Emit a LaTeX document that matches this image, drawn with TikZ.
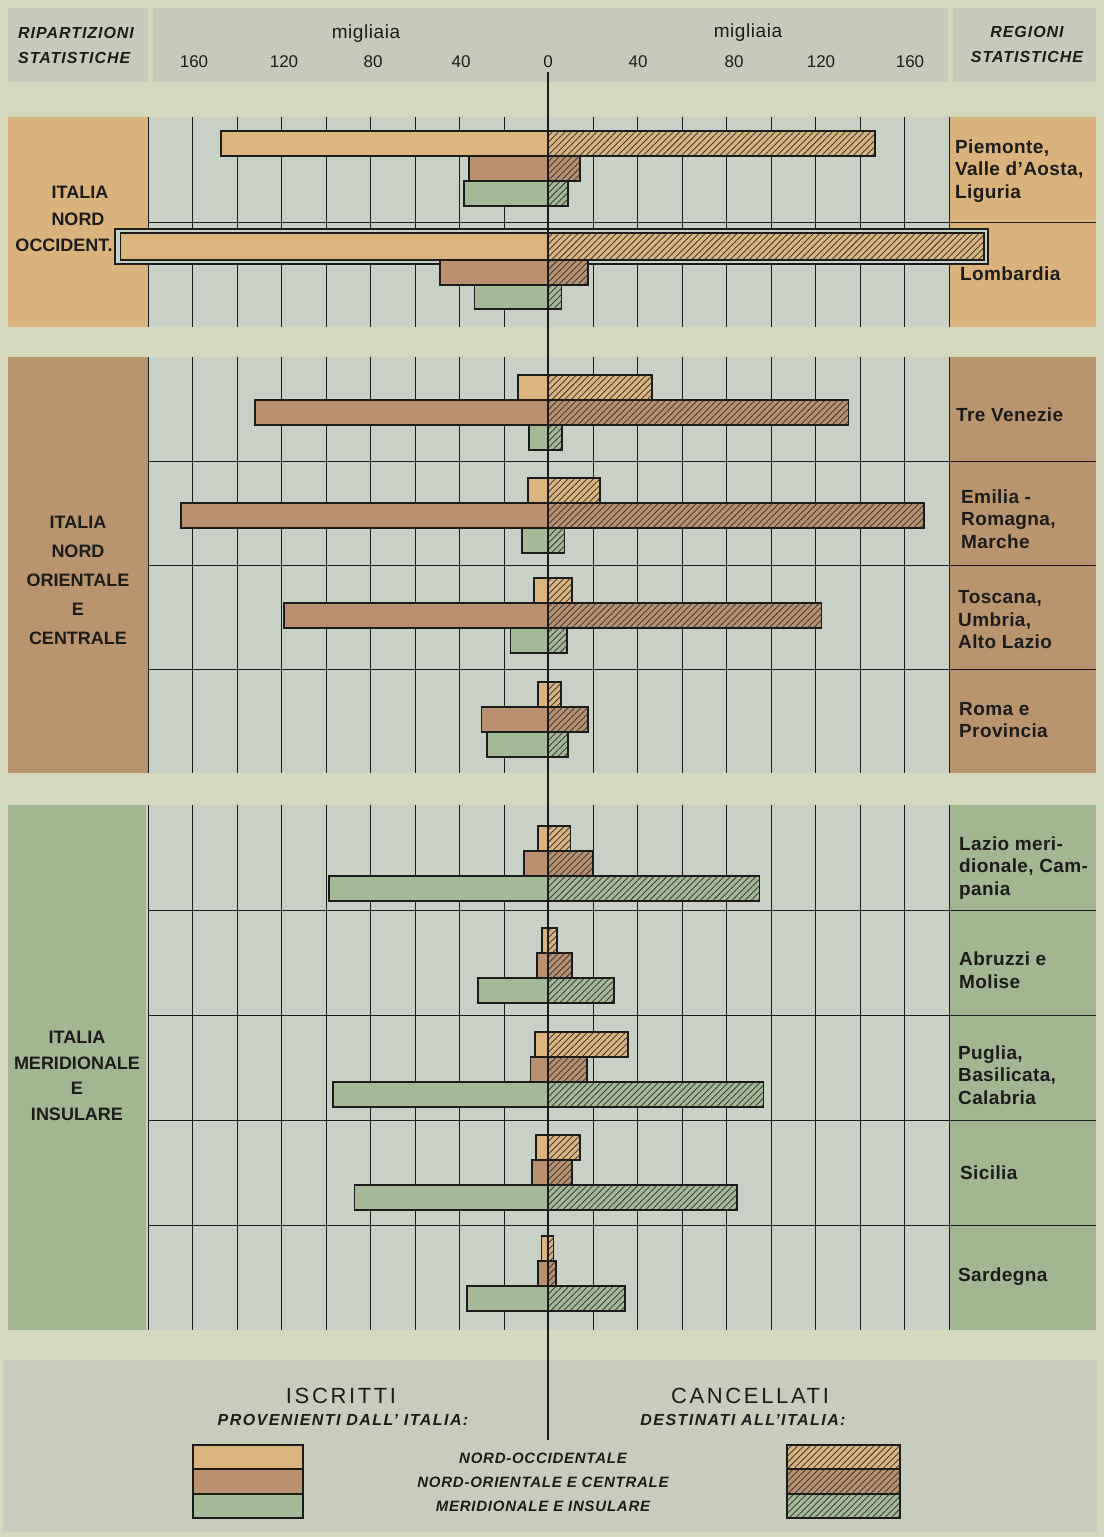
\documentclass[tikz,border=0pt]{standalone}
\usepackage{fontspec}
\setmainfont{Liberation Sans}
\usetikzlibrary{patterns.meta}
\definecolor{pagebg}{HTML}{D4D8BC}
\definecolor{headbg}{HTML}{C6CABA}
\definecolor{gridbg}{HTML}{C9D0C5}
\definecolor{legbg}{HTML}{C8CCBC}
\definecolor{orpanel}{HTML}{D9B27C}
\definecolor{brpanel}{HTML}{B8956F}
\definecolor{grpanel}{HTML}{A3B692}
\definecolor{orbar}{HTML}{DCB47F}
\definecolor{brbar}{HTML}{B99170}
\definecolor{grbar}{HTML}{A4B995}
\definecolor{ink}{HTML}{1C1C1A}
\newcommand{\xl}[1]{548-2.225*#1}
\newcommand{\xr}[1]{548+2.225*#1}
% one pair of bars: #1 top y, #2 left value, #3 right value, #4 colour, #5 height
\newcommand{\barpair}[5]{%
  \draw[barline, fill=#4] ({\xl{#2}},#1) rectangle (548,#1+#5);
  \draw[barline, preaction={fill=#4}, hatch] (548,#1) rectangle ({\xr{#3}},#1+#5);}
% three bars of one region: #1 top y, then pairs orange, brown, green
\newcommand{\regionbars}[7]{%
  \barpair{#1}{#2}{#3}{orbar}{25}
  \barpair{#1+25}{#4}{#5}{brbar}{25}
  \barpair{#1+50}{#6}{#7}{grbar}{25}}
\begin{document}
\begin{tikzpicture}[x=1pt,y=-1pt,
  gridline/.style={line width=1pt, draw=ink},
  barline/.style={line width=1.3pt, draw=ink},
  hatch/.style={pattern={Lines[angle=45,distance=4.5pt,line width=0.9pt]}, pattern color=ink!85},
  reglbl/.style={font=\fontsize{19}{22.5}\selectfont\bfseries\addfontfeature{LetterSpace=2}, align=left, anchor=west, inner sep=0pt, text=ink},
  partlbl/.style={font=\fontsize{18}{26.5}\selectfont\bfseries, align=center, inner sep=0pt, text=ink},
  headit/.style={font=\fontsize{16}{25}\selectfont\bfseries\itshape\addfontfeature{LetterSpace=6}, align=center, inner sep=0pt, text=ink},
  numlbl/.style={font=\fontsize{17}{20}\selectfont, inner sep=0pt, text=ink},
  leghead/.style={font=\fontsize{22}{26}\selectfont\addfontfeature{LetterSpace=12}, inner sep=0pt, text=ink},
  legsub/.style={font=\fontsize{16}{20}\selectfont\bfseries\itshape\addfontfeature{LetterSpace=9}, inner sep=0pt, text=ink},
  legitem/.style={font=\fontsize{15}{24}\selectfont\bfseries\itshape\addfontfeature{LetterSpace=5}, align=center, inner sep=0pt, text=ink}]
\useasboundingbox (0,0) rectangle (1104,1537);
\fill[pagebg] (0,0) rectangle (1104,1537);
% header
\fill[headbg] (8,8) rectangle (148,82);
\fill[headbg] (153,8) rectangle (948,82);
\fill[headbg] (953,8) rectangle (1096,82);
\node[headit, anchor=west, align=left] (hleft) at (18,45.5) {RIPARTIZIONI\\STATISTICHE};
\node[headit] (hright) at (1027,44) {REGIONI\\STATISTICHE};
\node[numlbl, font=\fontsize{19}{22}\selectfont\addfontfeature{LetterSpace=3}] (migl) at (366,34) {migliaia};
\node[numlbl, font=\fontsize{19}{22}\selectfont\addfontfeature{LetterSpace=3}] (migr) at (748,33) {migliaia};
\foreach \v/\x [count=\i] in {160/194,120/284,80/373,40/461,0/548,40/638,80/734,120/821,160/910}
  \node[numlbl] (num\i) at (\x,62) {\v};
% legend box
\fill[legbg] (3,1360) rectangle (1097,1532);
% sections: panels and grid background
\fill[orpanel] (8,117) rectangle (148,327);
\fill[gridbg] (148,117) rectangle (950,327);
\fill[orpanel] (950,117) rectangle (1096,327);
\fill[brpanel] (8,357) rectangle (148,773);
\fill[gridbg] (148,357) rectangle (950,773);
\fill[brpanel] (950,357) rectangle (1096,773);
\fill[grpanel] (8,805) rectangle (146,1330);
\fill[gridbg] (146,805) rectangle (950,1330);
\fill[grpanel] (950,805) rectangle (1096,1330);
% vertical grid lines
\foreach \ya/\yb in {117/327,357/773,805/1330}
  \foreach \k in {0,...,18}
    \draw[gridline] ({148+44.5*\k},\ya) -- ({148+44.5*\k},\yb);
% row separators
\foreach \y in {222,461,565,669,910,1015,1120,1225}
  \draw[gridline] (148,\y) -- (1096,\y);
% bars
\regionbars{131}{147}{147}{35.5}{14.4}{37.7}{9}
% Lombardia (framed long bar)
\draw[barline, fill=gridbg] (115,229) rectangle (988,264);
\barpair{233}{192}{196}{orbar}{27}
\barpair{260}{48.5}{18}{brbar}{25}
\barpair{285}{33}{6}{grbar}{24}
\regionbars{375}{13.5}{46.7}{131.7}{135}{8.5}{6.3}
\regionbars{478}{9}{23.4}{165}{169}{11.7}{7.4}
\regionbars{578}{6.3}{10.8}{118.7}{123}{17}{8.5}
\regionbars{682}{4.5}{5.8}{30}{18}{27.4}{9}
\regionbars{826}{4.5}{10}{10.8}{20}{98.4}{95}
\regionbars{928}{2.7}{4}{5}{10.8}{31.5}{29.7}
\regionbars{1032}{5.8}{36}{8}{17.5}{96.6}{97}
\regionbars{1135}{5.4}{14.4}{7.2}{10.8}{87}{85}
\regionbars{1236}{3}{2.5}{4.5}{3.6}{36.4}{34.6}
% zero axis
\coordinate (axtop) at (548,72);
\coordinate (axbot) at (548,1440);
\draw[line width=2.6pt, ink] (axtop) -- (axbot);
% section labels
\node[partlbl] (p1a) at (80,192) {ITALIA};
\node[partlbl] (p1b) at (78,219) {NORD};
\node[partlbl] (p1c) at (64,245) {OCCIDENT.};
\node[partlbl, font=\fontsize{18}{29}\selectfont\bfseries] (p2) at (78,580) {ITALIA\\NORD\\ORIENTALE\\E\\CENTRALE};
\node[partlbl, font=\fontsize{18}{25.7}\selectfont\bfseries] (p3) at (77,1076) {ITALIA\\MERIDIONALE\\E\\INSULARE};
% region labels
\node[reglbl] (r1) at (955,171) {Piemonte,\\Valle d'Aosta,\\Liguria};
\node[reglbl] (r2) at (960,274) {Lombardia};
\node[reglbl] (r3) at (956,415) {Tre Venezie};
\node[reglbl] (r4) at (961,519) {Emilia -\\Romagna,\\Marche};
\node[reglbl] (r5) at (958,620) {Toscana,\\Umbria,\\Alto Lazio};
\node[reglbl] (r6) at (959,720) {Roma e\\Provincia};
\node[reglbl] (r7) at (959,868) {Lazio meri-\\dionale, Cam-\\pania};
\node[reglbl] (r8) at (959,970) {Abruzzi e\\Molise};
\node[reglbl] (r9) at (958,1075) {Puglia,\\Basilicata,\\Calabria};
\node[reglbl] (r10) at (960,1173) {Sicilia};
\node[reglbl] (r11) at (958,1277) {Sardegna};
% legend
\node[leghead] (iscr) at (341,1396) {ISCRITTI};
\node[leghead] (canc) at (750,1396) {CANCELLATI};
\node[legsub] (prov) at (343,1420) {PROVENIENTI DALL' ITALIA:};
\node[legsub] (dest) at (743,1420) {DESTINATI ALL'ITALIA:};
\node[legitem] (items) at (543,1482) {NORD-OCCIDENTALE\\NORD-ORIENTALE E CENTRALE\\MERIDIONALE E INSULARE};
% swatches
\draw[barline, fill=orbar] (193,1445) rectangle (303,1469);
\draw[barline, fill=brbar] (193,1469) rectangle (303,1494);
\draw[barline, fill=grbar] (193,1494) rectangle (303,1518);
\draw[barline, preaction={fill=orbar}, hatch] (787,1445) rectangle (900,1469);
\draw[barline, preaction={fill=brbar}, hatch] (787,1469) rectangle (900,1494);
\draw[barline, preaction={fill=grbar}, hatch] (787,1494) rectangle (900,1518);
\end{tikzpicture}
\end{document}
